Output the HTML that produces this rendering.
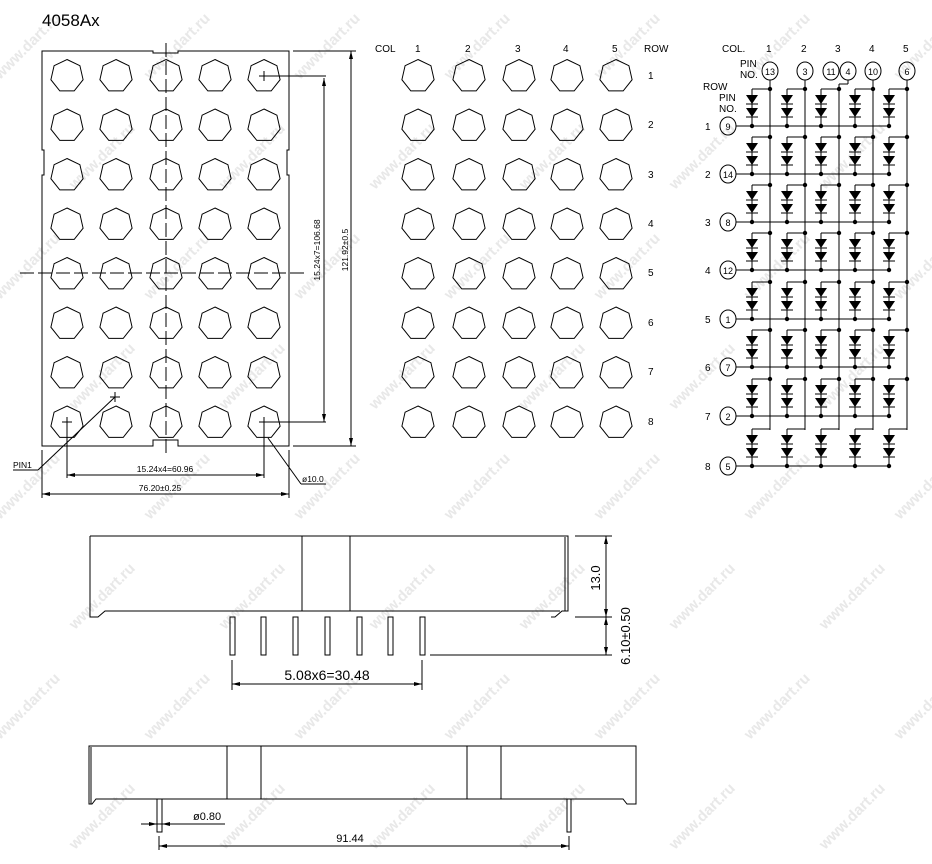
<!DOCTYPE html>
<html><head><meta charset="utf-8"><style>
html,body{margin:0;padding:0;background:#fff;width:932px;height:864px;overflow:hidden}
svg{display:block}
text{font-family:"Liberation Sans",sans-serif}
</style></head><body>
<svg id="s" width="932" height="864" viewBox="0 0 932 864" xmlns="http://www.w3.org/2000/svg" stroke="#000" stroke-width="1" fill="none">
<g id="wm" stroke="none"></g>
<g id="g"></g>
<g fill="#000">
<!-- left top view outline -->
<path fill="none" d="M42,51 H153 V53 H178 V51 H289 V150 H287 V175 H289 V446 H178 V440 H153 V446 H42 V175 H44 V150 H42 Z"/>
<line x1="166" y1="43" x2="166" y2="456" stroke-dasharray="14,4"/>
<line x1="20" y1="273" x2="305" y2="273" stroke-dasharray="14,4"/>
<line x1="264" y1="76" x2="326" y2="76"/>
<line x1="324" y1="78" x2="324" y2="422"/>
<line x1="268" y1="422" x2="326" y2="422"/>
<line x1="293" y1="51" x2="356" y2="51"/>
<line x1="293" y1="446" x2="356" y2="446"/>
<line x1="351" y1="51" x2="351" y2="446"/>
<line x1="67" y1="425" x2="67" y2="478"/>
<line x1="264" y1="425" x2="264" y2="478"/>
<line x1="67" y1="475" x2="264" y2="475"/>
<line x1="42" y1="450" x2="42" y2="498"/>
<line x1="289" y1="450" x2="289" y2="498"/>
<line x1="42" y1="494" x2="289" y2="494"/>
<line x1="13" y1="470" x2="38" y2="470"/>
<line x1="38" y1="470" x2="115" y2="397"/>
<line x1="268" y1="438" x2="301" y2="484"/>
<line x1="301" y1="484" x2="326" y2="484"/>
<text x="42" y="26" font-size="17" stroke="none">4058Ax</text>
<text x="320" y="250" font-size="8.5" stroke="none" transform="rotate(-90 320 250)" text-anchor="middle">15.24x7=106.68</text>
<text x="348" y="250" font-size="8.5" stroke="none" transform="rotate(-90 348 250)" text-anchor="middle">121.92±0.5</text>
<text x="165" y="472" font-size="8.5" stroke="none" text-anchor="middle">15.24x4=60.96</text>
<text x="160" y="491" font-size="8.5" stroke="none" text-anchor="middle">76.20±0.25</text>
<text x="13" y="468" font-size="8.5" stroke="none">PIN1</text>
<text x="302" y="482" font-size="8.5" stroke="none">ø10.0</text>
<g font-size="10" stroke="none">
<text x="375" y="52">COL</text><text x="415" y="52">1</text><text x="465" y="52">2</text><text x="515" y="52">3</text><text x="563" y="52">4</text><text x="612" y="52">5</text><text x="644" y="52">ROW</text>
<text x="648" y="79">1</text><text x="648" y="128">2</text><text x="648" y="178">3</text><text x="648" y="227">4</text><text x="648" y="276">5</text><text x="648" y="326">6</text><text x="648" y="375">7</text><text x="648" y="425">8</text>
</g>
<g font-size="10" stroke="none">
<text x="722" y="52">COL.</text><text x="766" y="52">1</text><text x="801" y="52">2</text><text x="835" y="52">3</text><text x="869" y="52">4</text><text x="903" y="52">5</text>
<text x="740" y="67">PIN</text><text x="740" y="78">NO.</text>
<text x="703" y="90">ROW</text><text x="719" y="101">PIN</text><text x="719" y="112">NO.</text>
<text x="705" y="130">1</text><text x="705" y="178">2</text><text x="705" y="226">3</text><text x="705" y="274">4</text><text x="705" y="323">5</text><text x="705" y="371">6</text><text x="705" y="420">7</text><text x="705" y="470">8</text>
</g>
<g font-size="9" stroke="none" text-anchor="middle">
<text x="770" y="75">13</text><text x="805" y="75">3</text><text x="831" y="75">11</text><text x="848" y="75">4</text><text x="873" y="75">10</text><text x="907" y="75">6</text>
<text x="728" y="130">9</text><text x="728" y="178">14</text><text x="728" y="226">8</text><text x="728" y="274">12</text><text x="728" y="323">1</text><text x="728" y="371">7</text><text x="728" y="420">2</text><text x="728" y="470">5</text>
</g>
<!-- side view 1 -->
<path fill="none" d="M90,536 H568 V611 H562 L555,617 H551 M90,536 V617 H98 L105,611 H560"/>
<line x1="565" y1="537" x2="565" y2="611"/>
<line x1="302" y1="536" x2="302" y2="611"/>
<line x1="350" y1="536" x2="350" y2="611"/>
<line x1="575" y1="536" x2="612" y2="536"/>
<line x1="575" y1="617" x2="612" y2="617"/>
<line x1="430" y1="655" x2="612" y2="655"/>
<line x1="606" y1="536" x2="606" y2="655"/>
<line x1="232" y1="660" x2="232" y2="690"/>
<line x1="422" y1="660" x2="422" y2="690"/>
<line x1="232" y1="684" x2="422" y2="684"/>
<text x="327" y="680" font-size="14" stroke="none" text-anchor="middle">5.08x6=30.48</text>
<text x="600" y="578" font-size="13" stroke="none" transform="rotate(-90 600 578)" text-anchor="middle">13.0</text>
<text x="630" y="636" font-size="13" stroke="none" transform="rotate(-90 630 636)" text-anchor="middle">6.10±0.50</text>
<!-- side view 2 -->
<path fill="none" d="M89,746 H636 V804 H627 L623,799 H96 L92,804 H89 Z"/>
<line x1="91" y1="747" x2="91" y2="804"/>
<line x1="227" y1="746" x2="227" y2="799"/>
<line x1="261" y1="746" x2="261" y2="799"/>
<line x1="467" y1="746" x2="467" y2="799"/>
<line x1="501" y1="746" x2="501" y2="799"/>
<rect fill="#fff" x="157" y="799" width="5" height="33"/>
<rect fill="#fff" x="567" y="799" width="4" height="33"/>
<line x1="141" y1="824" x2="225" y2="824"/>
<line x1="159" y1="836" x2="159" y2="850"/>
<line x1="569" y1="836" x2="569" y2="850"/>
<line x1="159" y1="846" x2="569" y2="846"/>
<text x="193" y="820" font-size="11" stroke="none">ø0.80</text>
<text x="350" y="842" font-size="11" stroke="none" text-anchor="middle">91.44</text>
</g>
</svg>
<script>
var NS="http://www.w3.org/2000/svg",g=document.getElementById("g");
function el(t,a){var e=document.createElementNS(NS,t);for(var k in a)e.setAttribute(k,a[k]);g.appendChild(e);return e;}
function ln(a,b,c,d){el("line",{x1:a,y1:b,x2:c,y2:d});}
function dot(x,y){el("circle",{cx:x,cy:y,r:2.2,fill:"#000",stroke:"none"});}
function hept(cx,cy,r){var p=[];for(var i=0;i<7;i++){var a=-Math.PI/2+i*2*Math.PI/7;p.push((cx+r*Math.cos(a)).toFixed(1)+","+(cy+r*Math.sin(a)).toFixed(1));}el("polygon",{points:p.join(" ")});}
var ys=[76,125.5,175,224.5,274,323.5,373,422.5];
[67,116,166,215,264].forEach(function(x){ys.forEach(function(y){hept(x,y,16.5);});});
[418,469,519,567,616].forEach(function(x){ys.forEach(function(y){hept(x,y,16.5);});});
[[264,76],[67,422],[264,422],[115,397]].forEach(function(p){ln(p[0]-5,p[1],p[0]+5,p[1]);ln(p[0],p[1]-5,p[0],p[1]+5);});
function arr(x,y,dx,dy){el("polygon",{points:x+","+y+" "+(x+dx*8+dy*2)+","+(y+dy*8+dx*2)+" "+(x+dx*8-dy*2)+","+(y+dy*8-dx*2),fill:"#000",stroke:"none"});}
arr(324,78,0,1);arr(324,422,0,-1);arr(351,51,0,1);arr(351,446,0,-1);
arr(67,475,1,0);arr(264,475,-1,0);arr(42,494,1,0);arr(289,494,-1,0);
arr(232,684,1,0);arr(422,684,-1,0);arr(606,536,0,1);arr(606,617,0,-1);arr(606,617,0,1);arr(606,655,0,-1);
arr(159,846,1,0);arr(569,846,-1,0);arr(157,824,-1,0);arr(162,824,1,0);
[232,263,295,327,359,390,422].forEach(function(x){el("rect",{x:x-2,y:617,width:5,height:38});});
var cx=[770,805,839,873,907],ry=[126,174,222,270,319,367,416,466];
function circ(x,y){el("ellipse",{cx:x,cy:y,rx:8,ry:9});}
circ(770,71);circ(805,71);circ(831,71);circ(848,71);circ(873,71);circ(907,71);
ry.forEach(function(y){circ(728,y);ln(736,y,889,y);});
ln(770,80,770,430);ln(805,80,805,430);ln(848,80,848,84);ln(848,84,839,84);ln(839,84,839,430);ln(873,80,873,430);ln(907,80,907,430);
function diode(x,y){el("polygon",{points:(x-6)+","+y+" "+(x+6)+","+y+" "+x+","+(y+9),fill:"#000",stroke:"none"});ln(x-6,y+9,x+6,y+9);}
ry.forEach(function(y,ri){
  cx.forEach(function(c){
    var d=c-18,top=y-37;
    ln(c,top,d,top);ln(d,top,d,y);
    if(ri<7)dot(c,top);
    diode(d,top+6);diode(d,top+19);
    dot(d,y);
  });
});
var wm=document.getElementById("wm");
for(var r=0;r<8;r++)for(var c=0;c<7;c++){var x=c*150+(r%2)*75,y=r*110+80;var t=document.createElementNS(NS,"text");t.setAttribute("x",x);t.setAttribute("y",y);t.setAttribute("transform","rotate(-45 "+x+" "+y+")");t.setAttribute("style","fill:#e8e8e8;font-size:15px;font-weight:bold");t.textContent="www.dart.ru";wm.appendChild(t);}
</script>
</body></html>
